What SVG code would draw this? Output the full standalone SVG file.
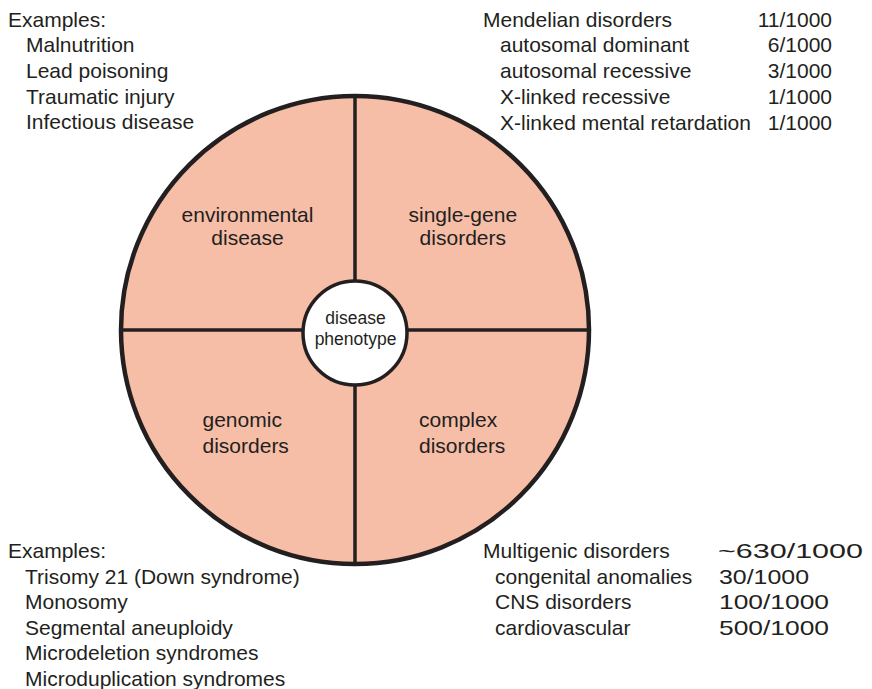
<svg xmlns="http://www.w3.org/2000/svg" width="872" height="689" viewBox="0 0 872 689">
  <style>
    text { font-family: "Liberation Sans", Arial, sans-serif; font-size: 21px; fill: #231f20; }
    .small { font-size: 17.5px; }
    .mid { text-anchor: middle; }
    .end { text-anchor: end; }
    .divider { stroke: #231f20; stroke-width: 3.5; fill: none; }
  </style>
  <rect width="872" height="689" fill="#ffffff"/>

  <!-- outer disc -->
  <g id="wheel">
    <circle cx="355" cy="330" r="234" fill="#f6bda7" stroke="#231f20" stroke-width="4.5"/>
  </g>

  <!-- quadrant dividers -->
  <g id="connectors">
    <line class="divider" x1="355" y1="96" x2="355" y2="564"/>
    <line class="divider" x1="121" y1="330" x2="589" y2="330"/>
  </g>

  <g id="environmental">
    <text class="mid" x="247.5" y="221.5">environmental</text>
    <text class="mid" x="247.5" y="245">disease</text>
  </g>
  <g id="single-gene">
    <text class="mid" x="462.8" y="222">single-gene</text>
    <text class="mid" x="462.8" y="245">disorders</text>
  </g>
  <g id="genomic">
    <text x="202.5" y="427.3">genomic</text>
    <text x="202.5" y="452.7">disorders</text>
  </g>
  <g id="complex">
    <text x="419" y="427.3">complex</text>
    <text x="419" y="452.7">disorders</text>
  </g>

  <g id="phenotype">
    <circle cx="355" cy="333" r="52" fill="#ffffff" stroke="#231f20" stroke-width="3.5"/>
    <text class="small mid" x="355.5" y="324">disease</text>
    <text class="small mid" x="355.5" y="345">phenotype</text>
  </g>

  <!-- environmental examples -->
  <g id="env-examples">
    <text x="8" y="26.7">Examples:</text>
    <text x="26" y="52.3">Malnutrition</text>
    <text x="26" y="77.9">Lead poisoning</text>
    <text x="26" y="103.5">Traumatic injury</text>
    <text x="26" y="129.1">Infectious disease</text>
  </g>

  <!-- mendelian frequencies -->
  <g id="mendelian">
    <text x="483" y="26.7">Mendelian disorders</text>
    <text x="500" y="52.4">autosomal dominant</text>
    <text x="500" y="78.1">autosomal recessive</text>
    <text x="500" y="103.8">X-linked recessive</text>
    <text x="500" y="129.5">X-linked mental retardation</text>
    <text class="end" x="832" y="26.7">11/1000</text>
    <text class="end" x="832" y="52.4">6/1000</text>
    <text class="end" x="832" y="78.1">3/1000</text>
    <text class="end" x="832" y="103.8">1/1000</text>
    <text class="end" x="832" y="129.5">1/1000</text>
  </g>

  <!-- genomic examples -->
  <g id="genomic-examples">
    <text x="8" y="558">Examples:</text>
    <text x="25" y="583.6">Trisomy 21 (Down syndrome)</text>
    <text x="25" y="609.2">Monosomy</text>
    <text x="25" y="634.8">Segmental aneuploidy</text>
    <text x="25" y="660.4">Microdeletion syndromes</text>
    <text x="25" y="686">Microduplication syndromes</text>
  </g>

  <!-- multigenic frequencies -->
  <g id="multigenic">
    <text x="483" y="558">Multigenic disorders</text>
    <text x="495" y="583.6">congenital anomalies</text>
    <text x="495" y="609.2">CNS disorders</text>
    <text x="495" y="634.8">cardiovascular</text>
    <text x="718" y="558" textLength="145" lengthAdjust="spacingAndGlyphs">~630/1000</text>
    <text x="719" y="583.6" textLength="90" lengthAdjust="spacingAndGlyphs">30/1000</text>
    <text x="719" y="609.2" textLength="110" lengthAdjust="spacingAndGlyphs">100/1000</text>
    <text x="719" y="634.8" textLength="110" lengthAdjust="spacingAndGlyphs">500/1000</text>
  </g>
</svg>
